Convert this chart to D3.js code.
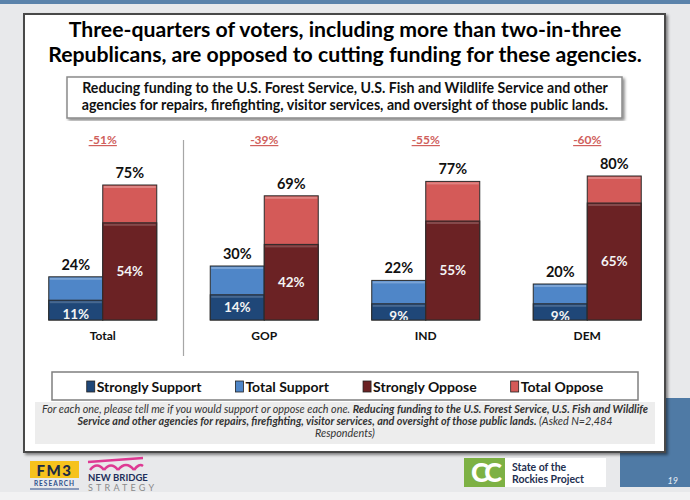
<!DOCTYPE html>
<html>
<head>
<meta charset="utf-8">
<script src="https://cdn.jsdelivr.net/npm/d3@7"></script>
<style>
  body { margin: 0; background: #e8e9eb; }
  svg { display: block; }
  text { font-family: Lato, "Open Sans", sans-serif; }
</style>
</head>
<body>
<script>
// data
let groups = ["Total", "GOP", "IND", "DEM"];
let stronglySupport = [11, 14, 9, 9];
let totalSupport = [24, 30, 22, 20];
let stronglyOppose = [54, 42, 55, 65];
let totalOppose = [75, 69, 77, 80];
let legendLabels = ["Strongly Support", "Total Support", "Strongly Oppose", "Total Oppose"];
let colors = ["#1f4778", "#4f86c8", "#6b2224", "#d45a58"];

let width = 690, height = 500;

let svg = d3.select('body').append('svg')
  .attr('width', width)
  .attr('height', height)

// fit a text element to a target width by changing its font size
function fitWidth(sel, w) {
  let len = sel.node().getComputedTextLength();
  let fs = parseFloat(sel.attr('font-size'));
  sel.attr('font-size', (fs * w / len).toFixed(2));
}

let defs = svg.append('defs');
let shadow = defs.append('filter').attr('id', 'shadow')
  .attr('x', -0.05).attr('y', -0.05).attr('width', 1.1).attr('height', 1.1);
shadow.append('feDropShadow')
  .attr('dx', 2).attr('dy', 2).attr('stdDeviation', 1.5)
  .attr('flood-color', '#000').attr('flood-opacity', 0.45);

// slide background
svg.append('rect').attr('width', width).attr('height', height).attr('fill', '#e8e9eb');
svg.append('rect').attr('y', 492).attr('width', width).attr('height', 8).attr('fill', '#f2f2f3');
svg.append('rect').attr('width', width).attr('height', 4).attr('fill', '#5b83ab');
svg.append('rect').attr('x', 620).attr('y', 398).attr('width', 70).attr('height', 89).attr('fill', '#4f7aa5');
svg.append('text').attr('x', 678).attr('y', 484).attr('text-anchor', 'end')
  .attr('font-size', 9).attr('font-style', 'italic').attr('fill', '#e6eef6').text('19');

// white panel
svg.append('rect')
  .attr('x', 24).attr('y', 14).attr('width', 641).attr('height', 438)
  .attr('fill', '#fff').attr('stroke', '#4a4a4a').attr('stroke-width', 2)
  .attr('filter', 'url(#shadow)');

// title
let titleLines = ["Three-quarters of voters, including more than two-in-three",
  "Republicans, are opposed to cutting funding for these agencies."];
let title = svg.append('g');
title.selectAll('text').data(titleLines).enter().append('text')
  .attr('x', 345).attr('y', (d, i) => 37 + i * 25)
  .attr('text-anchor', 'middle').attr('font-weight', 'bold')
  .attr('font-size', 21).attr('fill', '#000').text(d => d);
fitWidth(title.select('text:nth-child(2)'), 594);
title.select('text:nth-child(1)').attr('font-size', title.select('text:nth-child(2)').attr('font-size'));

// question box
svg.append('rect')
  .attr('x', 67).attr('y', 77).attr('width', 555).attr('height', 41)
  .attr('fill', '#fff').attr('stroke', '#8a8a8a').attr('stroke-width', 1.5)
  .attr('filter', 'url(#shadow)');
let qLines = ["Reducing funding to the U.S. Forest Service, U.S. Fish and Wildlife Service and other",
  "agencies for repairs, firefighting, visitor services, and oversight of those public lands."];
let q = svg.append('g');
q.selectAll('text').data(qLines).enter().append('text')
  .attr('x', 345).attr('y', (d, i) => 93 + i * 17)
  .attr('text-anchor', 'middle').attr('font-weight', 'bold')
  .attr('font-size', 13).attr('fill', '#111').text(d => d);
fitWidth(q.select('text:nth-child(1)'), 526);
q.select('text:nth-child(2)').attr('font-size', q.select('text:nth-child(1)').attr('font-size'));

// scales
let x = d3.scaleBand().domain(groups).range([22, 668]).padding(0);
let bw = x.bandwidth();
let xs = d3.scaleBand().domain(["support", "oppose"]).range([bw / 2 - 54, bw / 2 + 54]).padding(0);
let y = d3.scaleLinear().domain([0, 100]).range([320, 140]);

// divider between Total and the party groups
svg.append('line')
  .attr('x1', x(groups[1])).attr('x2', x(groups[1]))
  .attr('y1', 140).attr('y2', 356)
  .attr('stroke', '#a6a6a6').attr('stroke-width', 1.2);

let data = groups.map((g, i) => ({
  group: g,
  ss: stronglySupport[i], ts: totalSupport[i],
  so: stronglyOppose[i], to: totalOppose[i]
}));

let gGroups = svg.selectAll('.grp').data(data).enter().append('g')
  .classed('grp', true)
  .attr('transform', d => 'translate(' + x(d.group) + ',0)');

function drawBar(sel, key, top, strong, cTop, cStrong, i) {
  let bx = xs(key), w = xs.bandwidth();
  sel.append('rect').attr('x', bx).attr('y', d => y(d[top])).attr('width', w)
    .attr('height', d => y(0) - y(d[top])).attr('fill', cTop)
    .attr('stroke', '#2b2b2b').attr('stroke-width', 1);
  sel.append('rect').attr('x', bx + 1).attr('y', d => y(d[top]) + 1).attr('width', w - 2)
    .attr('height', 2).attr('fill', '#fff').attr('opacity', 0.25);
  sel.append('rect').attr('x', bx).attr('y', d => y(d[strong])).attr('width', w)
    .attr('height', d => y(0) - y(d[strong])).attr('fill', cStrong)
    .attr('stroke', '#2b2b2b').attr('stroke-width', 1);
  sel.append('rect').attr('x', bx + 1).attr('y', d => y(d[strong]) + 1).attr('width', w - 2)
    .attr('height', 2).attr('fill', '#fff').attr('opacity', 0.18);

  // total label above
  sel.append('text')
    .attr('x', bx + w / 2).attr('y', d => y(d[top]) - 7)
    .attr('text-anchor', 'middle').attr('font-weight', 'bold').attr('font-size', 14.5)
    .attr('fill', '#111').text(d => d[top] + '%');

  // strongly label inside, clipped to the segment
  sel.each(function(d, j) {
    let id = 'clip-' + key + '-' + j;
    defs.append('clipPath').attr('id', id).append('rect')
      .attr('x', x(d.group) + bx).attr('y', y(d[strong])).attr('width', w)
      .attr('height', y(0) - y(d[strong]));
    let segH = y(0) - y(d[strong]);
    let cy = y(d[strong]) + segH / 2 + (segH < 22 ? 4 : 0);
    d3.select(this).append('text')
      .attr('clip-path', 'url(#' + id + ')')
      .attr('transform', 'translate(' + (-x(d.group)) + ',0)')
      .attr('x', x(d.group) + bx + w / 2).attr('y', cy)
      .attr('dy', '0.36em')
      .attr('text-anchor', 'middle').attr('font-weight', 'bold').attr('font-size', 13.5)
      .attr('fill', '#f4f4f4').text(d[strong] + '%');
  });
}

drawBar(gGroups, 'support', 'ts', 'ss', colors[1], colors[0]);
drawBar(gGroups, 'oppose', 'to', 'so', colors[3], colors[2]);

// category labels
gGroups.append('text')
  .attr('x', bw / 2).attr('y', 340)
  .attr('text-anchor', 'middle').attr('font-weight', 'bold').attr('font-size', 12)
  .attr('fill', '#111').text(d => d.group);

// net (support minus oppose) labels
gGroups.append('text')
  .attr('x', bw / 2).attr('y', 144)
  .attr('text-anchor', 'middle').attr('font-weight', 'bold').attr('font-size', 12)
  .attr('fill', '#d0605c').attr('text-decoration', 'underline')
  .text(d => (d.ts - d.to) + '%');

// legend
svg.append('rect')
  .attr('x', 52).attr('y', 372).attr('width', 586).attr('height', 28)
  .attr('fill', '#fff').attr('stroke', '#7f7f7f').attr('stroke-width', 1.5);
let legend = svg.append('g');
let items = legend.selectAll('g').data(legendLabels).enter().append('g');
items.append('rect')
  .attr('y', 381).attr('width', 8).attr('height', 11)
  .attr('fill', (d, i) => colors[i]).attr('stroke', '#222').attr('stroke-width', 0.8);
items.append('text')
  .attr('x', 10).attr('y', 391.5)
  .attr('font-weight', 'bold').attr('font-size', 14).attr('fill', '#111')
  .text(d => d);
let lx = 0, gap = 34, widths = [];
items.each(function() { widths.push(d3.select(this).select('text').node().getComputedTextLength() + 10); });
let totalW = d3.sum(widths) + gap * (widths.length - 1);
lx = 345 - totalW / 2;
items.attr('transform', (d, i) => {
  let t = 'translate(' + lx + ',0)';
  lx += widths[i] + gap;
  return t;
});

// footnote
svg.append('rect')
  .attr('x', 35).attr('y', 402).attr('width', 620).attr('height', 42)
  .attr('fill', '#ededed');
let note = [
  [["For each one, please tell me if you would support or oppose each one. ", false],
   ["Reducing funding to the U.S. Forest Service, U.S. Fish and Wildlife", true]],
  [["Service and other agencies for repairs, firefighting, visitor services, and oversight of those public lands.", true],
   [" (Asked N=2,484", false]],
  [["Respondents)", false]]
];
let noteG = svg.append('g');
let noteText = noteG.selectAll('text').data(note).enter().append('text')
  .attr('x', 345).attr('y', (d, i) => 413 + i * 12)
  .attr('text-anchor', 'middle').attr('font-style', 'italic')
  .attr('font-size', 9.5).attr('fill', '#333');
noteText.selectAll('tspan').data(d => d).enter().append('tspan')
  .attr('font-weight', d => d[1] ? 'bold' : 'normal')
  .text(d => d[0]);
fitWidth(noteG.select('text:nth-child(1)'), 606);
let nfs = noteG.select('text:nth-child(1)').attr('font-size');
noteG.selectAll('text').attr('font-size', nfs);

// footer logos
let fm3 = svg.append('g');
fm3.append('rect').attr('x', 30).attr('y', 461).attr('width', 49).attr('height', 17).attr('fill', '#f6c21c');
fm3.append('text').attr('x', 54.5).attr('y', 475.5).attr('text-anchor', 'middle')
  .attr('font-weight', 900).attr('font-size', 15).attr('letter-spacing', 1.5)
  .attr('fill', '#1d2a44').text('FM3');
fm3.append('text').attr('x', 54.5).attr('y', 486).attr('text-anchor', 'middle')
  .attr('font-weight', 'bold').attr('font-size', 6.5).attr('letter-spacing', 1)
  .attr('fill', '#2c4f8c').text('RESEARCH');
fm3.append('line').attr('x1', 30).attr('x2', 79).attr('y1', 489).attr('y2', 489)
  .attr('stroke', '#2c4f8c').attr('stroke-width', 1.2);

let nb = svg.append('g');
nb.append('path')
  .attr('d', 'M88,462 L143,458 M90,470 Q97,461 104,470 M104,470 Q111,461 118,470 M118,470 Q126,460 134,470 M134,470 Q139,463 143,466')
  .attr('fill', 'none').attr('stroke', '#de3a93').attr('stroke-width', 2.5);
nb.append('text').attr('x', 88).attr('y', 480.5)
  .attr('font-weight', 'bold').attr('font-size', 9.5).attr('fill', '#1f2f5a').text('NEW BRIDGE');
nb.append('text').attr('x', 88).attr('y', 490.5)
  .attr('font-size', 9).attr('letter-spacing', 3.2).attr('fill', '#8a8a8a').text('STRATEGY');

let sr = svg.append('g');
sr.append('rect').attr('x', 505).attr('y', 458).attr('width', 101).attr('height', 29).attr('fill', '#fff');
sr.append('rect').attr('x', 464).attr('y', 458).attr('width', 41).attr('height', 29).attr('fill', '#7db144');
sr.append('text').attr('x', 484.5).attr('y', 482).attr('text-anchor', 'middle')
  .attr('font-weight', 900).attr('font-size', 27).attr('letter-spacing', -4)
  .attr('fill', '#fff').text('CC');
sr.append('text').attr('x', 512).attr('y', 470.5)
  .attr('font-weight', 'bold').attr('font-size', 10.5).attr('fill', '#1f3050').text('State of the');
sr.append('text').attr('x', 512).attr('y', 482.5)
  .attr('font-weight', 'bold').attr('font-size', 10.5).attr('fill', '#1f3050').text('Rockies Project');
</script>
</body>
</html>
